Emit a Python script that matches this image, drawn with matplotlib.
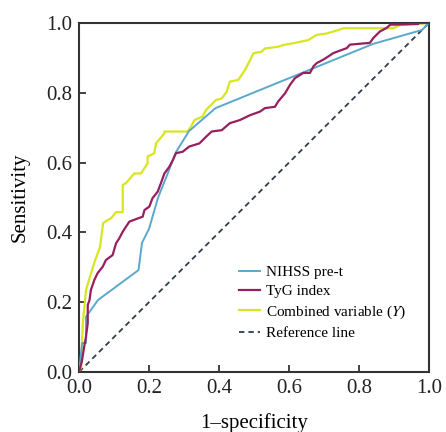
import matplotlib
matplotlib.use("Agg")
import matplotlib.pyplot as plt

# ---- data ----
nihss_fpr = [0, 0.009, 0.02, 0.02, 0.054, 0.17, 0.18, 0.20, 0.226, 0.25, 0.277, 0.314, 0.39, 0.84, 0.98, 1.0]
nihss_tpr = [0, 0.083, 0.083, 0.158, 0.206, 0.292, 0.37, 0.41, 0.50, 0.56, 0.63, 0.69, 0.756, 0.94, 0.98, 1.0]

tyg_fpr = [0, 0.008, 0.015, 0.02, 0.025, 0.025, 0.03, 0.034, 0.044, 0.053, 0.068, 0.077, 0.096, 0.106,
           0.115, 0.125, 0.134, 0.144, 0.168, 0.182, 0.187, 0.201, 0.21, 0.225, 0.234, 0.244, 0.258,
           0.268, 0.277, 0.296, 0.315, 0.344, 0.363, 0.379, 0.408, 0.431, 0.46, 0.489, 0.517, 0.531,
           0.56, 0.569, 0.589, 0.603, 0.617, 0.641, 0.66, 0.67, 0.679, 0.698, 0.712, 0.727, 0.765,
           0.774, 0.831, 0.841, 0.86, 0.879, 0.889, 0.969, 0.97, 1.0]
tyg_tpr = [0, 0.03, 0.073, 0.101, 0.14, 0.192, 0.206, 0.235, 0.264, 0.283, 0.302, 0.321, 0.335, 0.369,
           0.383, 0.402, 0.416, 0.431, 0.44, 0.445, 0.464, 0.474, 0.498, 0.517, 0.541, 0.569, 0.588,
           0.607, 0.627, 0.631, 0.646, 0.655, 0.674, 0.689, 0.693, 0.713, 0.722, 0.736, 0.746, 0.756,
           0.76, 0.775, 0.799, 0.823, 0.842, 0.857, 0.857, 0.876, 0.885, 0.895, 0.904, 0.914, 0.928,
           0.938, 0.943, 0.957, 0.976, 0.986, 0.995, 0.997, 1.0, 1.0]

comb_fpr = [0, 0.006, 0.011, 0.02, 0.031, 0.046, 0.06, 0.069, 0.083, 0.091, 0.106, 0.125, 0.125, 0.134,
            0.158, 0.177, 0.196, 0.196, 0.215, 0.22, 0.244, 0.244, 0.31, 0.32, 0.33, 0.353, 0.363,
            0.382, 0.391, 0.408, 0.422, 0.431, 0.455, 0.474, 0.489, 0.498, 0.522, 0.531, 0.569, 0.584,
            0.612, 0.655, 0.679, 0.708, 0.741, 0.755, 0.898, 0.917, 0.95, 1.0]
comb_tpr = [0, 0.014, 0.14, 0.235, 0.272, 0.32, 0.358, 0.427, 0.436, 0.44, 0.458, 0.458, 0.536, 0.541,
            0.569, 0.569, 0.598, 0.617, 0.627, 0.655, 0.684, 0.689, 0.689, 0.703, 0.722, 0.732, 0.751,
            0.77, 0.779, 0.784, 0.803, 0.832, 0.837, 0.865, 0.894, 0.913, 0.918, 0.927, 0.932, 0.937,
            0.942, 0.951, 0.966, 0.97, 0.98, 0.985, 0.985, 0.994, 0.997, 1.0]

ref_x = [0, 1]
ref_y = [0, 1]

labels = ["NIHSS pre-t", "TyG index", "Combined variable ($\\mathit{Y}$)", "Reference line"]
ticks = [0.0, 0.2, 0.4, 0.6, 0.8, 1.0]
tick_labels = ["0.0", "0.2", "0.4", "0.6", "0.8", "1.0"]

# ---- style ----
plt.rcParams["font.family"] = ["Liberation Serif", "DejaVu Serif"]
plt.rcParams["mathtext.fontset"] = "stix"

fig = plt.figure(figsize=(4.46, 4.32), dpi=100)
ax = fig.add_axes([79 / 446, 60 / 432, 350 / 446, 349 / 432])

c_blue = "#5aa8cc"
c_purple = "#981f5f"
c_yellow = "#d7e61e"
c_ref = "#2e3e4e"

ax.plot(nihss_fpr, nihss_tpr, color=c_blue, lw=1.4, label=labels[0], zorder=3)
ax.plot(tyg_fpr, tyg_tpr, color=c_purple, lw=1.6, label=labels[1], zorder=4)
ax.plot(comb_fpr, comb_tpr, color=c_yellow, lw=1.6, label=labels[2], zorder=2)
ax.plot(ref_x, ref_y, color=c_ref, lw=1.3, ls=(0, (3, 2.2)), label=labels[3], zorder=1)

ax.set_xlim(0, 1)
ax.set_ylim(0, 1)
ax.set_xticks(ticks)
ax.set_xticklabels(tick_labels)
ax.set_yticks(ticks)
ax.set_yticklabels(tick_labels)
ax.tick_params(direction="in", length=5, width=1.2, labelsize=15, pad=5, colors="#222222")
for s in ax.spines.values():
    s.set_linewidth(1.5)
    s.set_color("#333333")

ax.set_xlabel("1–specificity", fontsize=15, labelpad=11)
ax.set_ylabel("Sensitivity", fontsize=15, labelpad=12)

ax.legend(loc="upper left", bbox_to_anchor=(0.457, 0.306), frameon=False, fontsize=11,
          handlelength=1.35, handletextpad=0.45, labelspacing=0.36, borderpad=0, borderaxespad=0)

fig.savefig("out.png", dpi=100)
